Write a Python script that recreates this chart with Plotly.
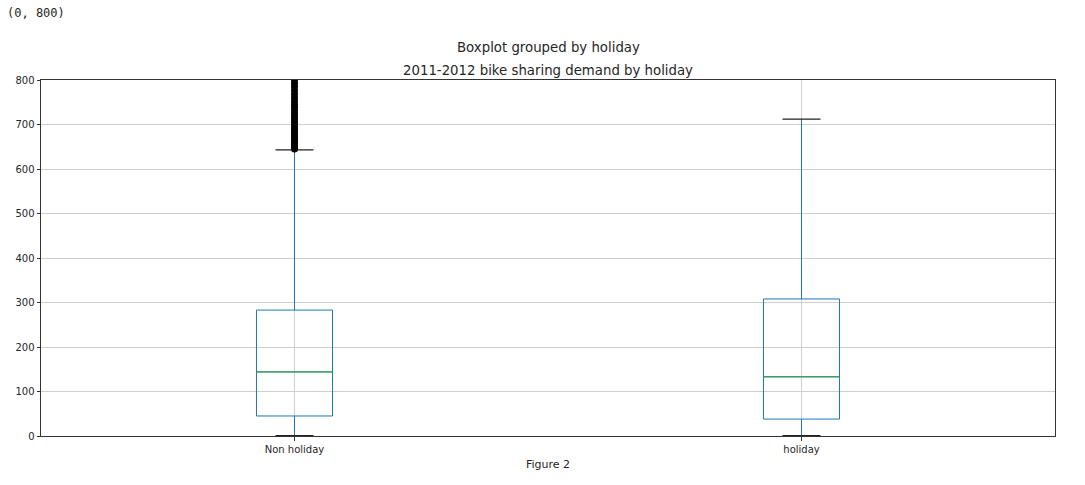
import plotly.graph_objects as go

# ---- data ----
categories = ["Non holiday", "holiday"]
positions = [1, 2]
q1 = [45, 38]
median = [144, 133]
q3 = [283, 308]
lower_whisker = [1, 1]
upper_whisker = [643, 712]
# outliers of the "Non holiday" group (dense, above the upper whisker)
outliers_nonholiday = [645, 648, 652, 655, 659, 663, 667, 671, 676, 680, 685, 690,
                       695, 700, 706, 712, 718, 724, 731, 738, 745, 752, 760, 768,
                       776, 784, 792, 800, 812, 825, 840, 857, 873, 890, 917, 943, 977]

box_w = 0.15
cap_w = box_w / 2
blue = "#1f77b4"
green = "#2ca02c"

fig = go.Figure()

for i, cat in enumerate(categories):
    p = positions[i]
    fig.add_trace(go.Box(
        x=[p], q1=[q1[i]], median=[median[i]], q3=[q3[i]],
        lowerfence=[lower_whisker[i]], upperfence=[upper_whisker[i]],
        width=box_w, whiskerwidth=0, boxpoints=False,
        line=dict(color=blue, width=1), fillcolor="rgba(0,0,0,0)",
        showlegend=False, hoverinfo="skip",
    ))
    # whiskers (blue) drawn explicitly so they sit over the grid
    fig.add_trace(go.Scatter(
        x=[p, p, None, p, p],
        y=[q3[i], upper_whisker[i], None, lower_whisker[i], q1[i]],
        mode="lines", line=dict(color=blue, width=1),
        showlegend=False, hoverinfo="skip",
    ))
    # median line in green
    fig.add_trace(go.Scatter(
        x=[p - box_w / 2, p + box_w / 2], y=[median[i], median[i]],
        mode="lines", line=dict(color=green, width=1),
        showlegend=False, hoverinfo="skip",
    ))
    # whisker caps in black
    for yv in (lower_whisker[i], upper_whisker[i]):
        fig.add_trace(go.Scatter(
            x=[p - cap_w / 2, p + cap_w / 2], y=[yv, yv],
            mode="lines", line=dict(color="#222222", width=1.2),
            showlegend=False, hoverinfo="skip",
        ))

fig.add_trace(go.Scatter(
    x=[positions[0]] * len(outliers_nonholiday), y=outliers_nonholiday,
    mode="markers", marker=dict(color="black", size=7, line=dict(width=0)),
    showlegend=False, hoverinfo="skip",
))

font = "DejaVu Sans"
fig.update_layout(
    width=1085, height=485,
    margin=dict(l=41, r=30, t=80, b=49),
    plot_bgcolor="white", paper_bgcolor="white",
    font=dict(family=font, size=10, color="#262626"),
    xaxis=dict(
        range=[0.5, 2.5], tickvals=positions, ticktext=categories,
        showgrid=True, gridcolor="#cfcfcf", gridwidth=1,
        showline=True, linecolor="#333333", linewidth=1, mirror=True,
        ticks="outside", ticklen=3.5, tickcolor="#333333", zeroline=False,
        title=dict(text="Figure 2", font=dict(size=11), standoff=6),
    ),
    yaxis=dict(
        range=[0, 800], tickvals=[0, 100, 200, 300, 400, 500, 600, 700, 800],
        showgrid=True, gridcolor="#cfcfcf", gridwidth=1,
        showline=True, linecolor="#333333", linewidth=1, mirror=True,
        ticks="outside", ticklen=3.5, tickcolor="#333333", zeroline=False,
    ),
    annotations=[
        dict(text="Boxplot grouped by holiday", xref="paper", yref="paper",
             x=0.5, y=1, yshift=33, xanchor="center", yanchor="middle",
             showarrow=False, font=dict(size=13.3, family=font)),
        dict(text="2011-2012 bike sharing demand by holiday", xref="paper", yref="paper",
             x=0.5, y=1, yshift=10, xanchor="center", yanchor="middle",
             showarrow=False, font=dict(size=13.3, family=font)),
        dict(text="(0, 800)", xref="paper", yref="paper",
             x=0, y=1, xshift=-36, yshift=67, xanchor="left", yanchor="middle",
             showarrow=False, font=dict(size=12, family="DejaVu Sans Mono")),
    ],
)

fig.write_html("out.html")
